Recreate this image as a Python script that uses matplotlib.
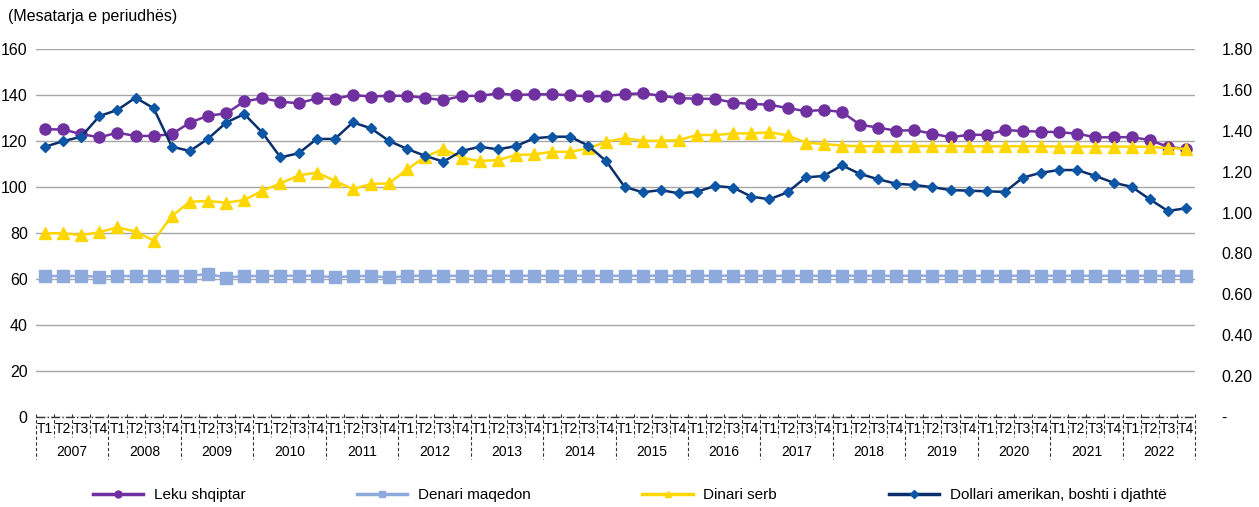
import matplotlib.pyplot as plt
from matplotlib.lines import Line2D

plt.rcParams['font.family'] = ['Liberation Sans', 'DejaVu Sans']

YEARS = [str(y) for y in range(2007, 2023)]
QUARTERS = ["T1", "T2", "T3", "T4"]

leku = [125.1, 125.0, 123.0, 121.6, 123.6, 122.2, 122.2, 123.0,
        128.0, 131.0, 132.0, 137.2, 138.6, 137.1, 136.4, 138.5,
        138.3, 140.0, 139.3, 139.7, 139.6, 138.7, 137.7, 139.6,
        139.6, 140.7, 140.0, 140.3, 140.3, 139.9, 139.4, 139.6,
        140.4, 140.7, 139.7, 138.6, 138.4, 138.3, 136.7, 136.1,
        135.8, 134.3, 133.0, 133.5, 132.6, 127.1, 125.8, 124.5,
        124.7, 123.2, 121.6, 122.7, 122.7, 124.8, 124.3, 124.1,
        123.8, 123.2, 121.6, 121.6, 121.7, 120.4, 117.5, 116.5]

denari = [61.3, 61.3, 61.3, 61.0, 61.3, 61.3, 61.3, 61.3,
          61.3, 62.2, 60.6, 61.3, 61.3, 61.4, 61.4, 61.4,
          60.7, 61.3, 61.3, 60.7, 61.3, 61.5, 61.3, 61.4,
          61.4, 61.4, 61.4, 61.4, 61.4, 61.4, 61.4, 61.4,
          61.4, 61.4, 61.4, 61.4, 61.4, 61.4, 61.4, 61.4,
          61.4, 61.4, 61.4, 61.4, 61.4, 61.4, 61.4, 61.4,
          61.4, 61.4, 61.4, 61.4, 61.4, 61.4, 61.4, 61.4,
          61.4, 61.4, 61.4, 61.4, 61.4, 61.4, 61.4, 61.4]

dinari = [79.9, 79.9, 79.1, 80.3, 82.5, 80.6, 76.7, 87.4,
          93.6, 93.9, 93.2, 94.3, 98.4, 101.6, 105.0, 106.3,
          102.7, 99.1, 101.3, 101.6, 107.7, 113.2, 116.5, 112.7,
          111.3, 111.7, 113.9, 114.2, 115.3, 115.3, 116.8, 119.7,
          121.2, 120.1, 120.1, 120.4, 122.6, 122.6, 123.3, 123.3,
          123.8, 122.5, 119.3, 118.7, 118.0, 117.7, 117.8, 117.8,
          117.8, 117.8, 117.8, 117.7, 117.7, 117.7, 117.7, 117.7,
          117.6, 117.6, 117.6, 117.6, 117.5, 117.5, 116.9, 116.6]

dollari = [1.322, 1.349, 1.371, 1.472, 1.502, 1.562, 1.510, 1.322,
           1.301, 1.361, 1.440, 1.482, 1.391, 1.270, 1.290, 1.360,
           1.360, 1.441, 1.412, 1.350, 1.311, 1.277, 1.249, 1.301,
           1.322, 1.309, 1.325, 1.363, 1.371, 1.371, 1.327, 1.250,
           1.126, 1.099, 1.110, 1.094, 1.102, 1.130, 1.122, 1.078,
           1.065, 1.099, 1.172, 1.179, 1.231, 1.189, 1.163, 1.141,
           1.135, 1.124, 1.110, 1.107, 1.104, 1.101, 1.171, 1.195,
           1.208, 1.208, 1.179, 1.146, 1.126, 1.065, 1.008, 1.021]

PURPLE = '#7030A0'
LBLUE = '#8EA9DB'
YELLOW = '#FFD700'
NAVY = '#0B2F6B'
NAVY_MK = '#0D56A6'

x = list(range(len(leku)))

fig = plt.figure(figsize=(12.59, 5.07), dpi=100)
ax = fig.add_axes([36 / 1259, 90 / 507, 1159 / 1259, 368 / 507])
ax2 = ax.twinx()

ax.plot(x, leku, color=PURPLE, lw=1.8, marker='o', ms=8, zorder=3)
ax.plot(x, denari, color=LBLUE, lw=1.8, marker='s', ms=8, zorder=3)
ax.plot(x, dinari, color=YELLOW, lw=1.8, marker='^', ms=8, zorder=4)
ax2.plot(x, dollari, color=NAVY, lw=1.8, marker='D', ms=5.5,
         markerfacecolor=NAVY_MK, markeredgecolor=NAVY_MK, zorder=5)

ax.set_xlim(-0.5, len(x) - 0.5)
ax.set_ylim(0, 160)
ax2.set_ylim(0, 1.8)
ax.set_yticks(range(0, 161, 20))
ax2.set_yticks([i * 0.2 for i in range(10)])
ax2.set_yticklabels(['-'] + [f"{i * 0.2:.2f}" for i in range(1, 10)])
ax.grid(axis='y', color='#a6a6a6', lw=1)
ax.set_axisbelow(True)
ax.set_xticks([])
for a in (ax, ax2):
    for s in a.spines.values():
        s.set_visible(False)
    a.tick_params(axis='y', length=0, labelsize=11.5, colors='black')
ax.tick_params(axis='y', pad=6)
ax2.tick_params(axis='y', pad=19)

# category axis in two levels
tr = ax.get_xaxis_transform()
ax.plot([-0.5, len(x) - 0.5], [0, 0], transform=tr, color='#333333',
        lw=1, ls='-.', clip_on=False)
for b in range(len(x) + 1):
    bottom = -0.115 if b % 4 == 0 else -0.055
    ax.plot([b - 0.5, b - 0.5], [0.008, bottom], transform=tr, color='#333333',
            lw=0.8, ls=(0, (3, 2)), clip_on=False)
for i in x:
    ax.text(i, -0.033, QUARTERS[i % 4], transform=tr, ha='center', va='center',
            fontsize=10)
for k, yr in enumerate(YEARS):
    ax.text(4 * k + 1.5, -0.095, yr, transform=tr, ha='center', va='center',
            fontsize=10)

fig.text(8 / 1259, 1 - 17 / 507, "(Mesatarja e periudhës)", fontsize=11.5,
         ha='left', va='center')

handles = [
    Line2D([], [], color=PURPLE, lw=2.5, marker='o', ms=5),
    Line2D([], [], color=LBLUE, lw=2.5, marker='s', ms=5),
    Line2D([], [], color=YELLOW, lw=2.5, marker='^', ms=5),
    Line2D([], [], color=NAVY, lw=2.5, marker='D', ms=4,
           markerfacecolor=NAVY_MK, markeredgecolor=NAVY_MK),
]
labels = ["Leku shqiptar", "Denari maqedon", "Dinari serb",
          "Dollari amerikan, boshti i djathtë"]
fig.legend(handles, labels, loc='center', bbox_to_anchor=(0.5, 12 / 507),
           ncol=4, frameon=False, fontsize=11, handlelength=3.3,
           handletextpad=0.7, columnspacing=7.3)

fig.savefig('out.png', dpi=100)
